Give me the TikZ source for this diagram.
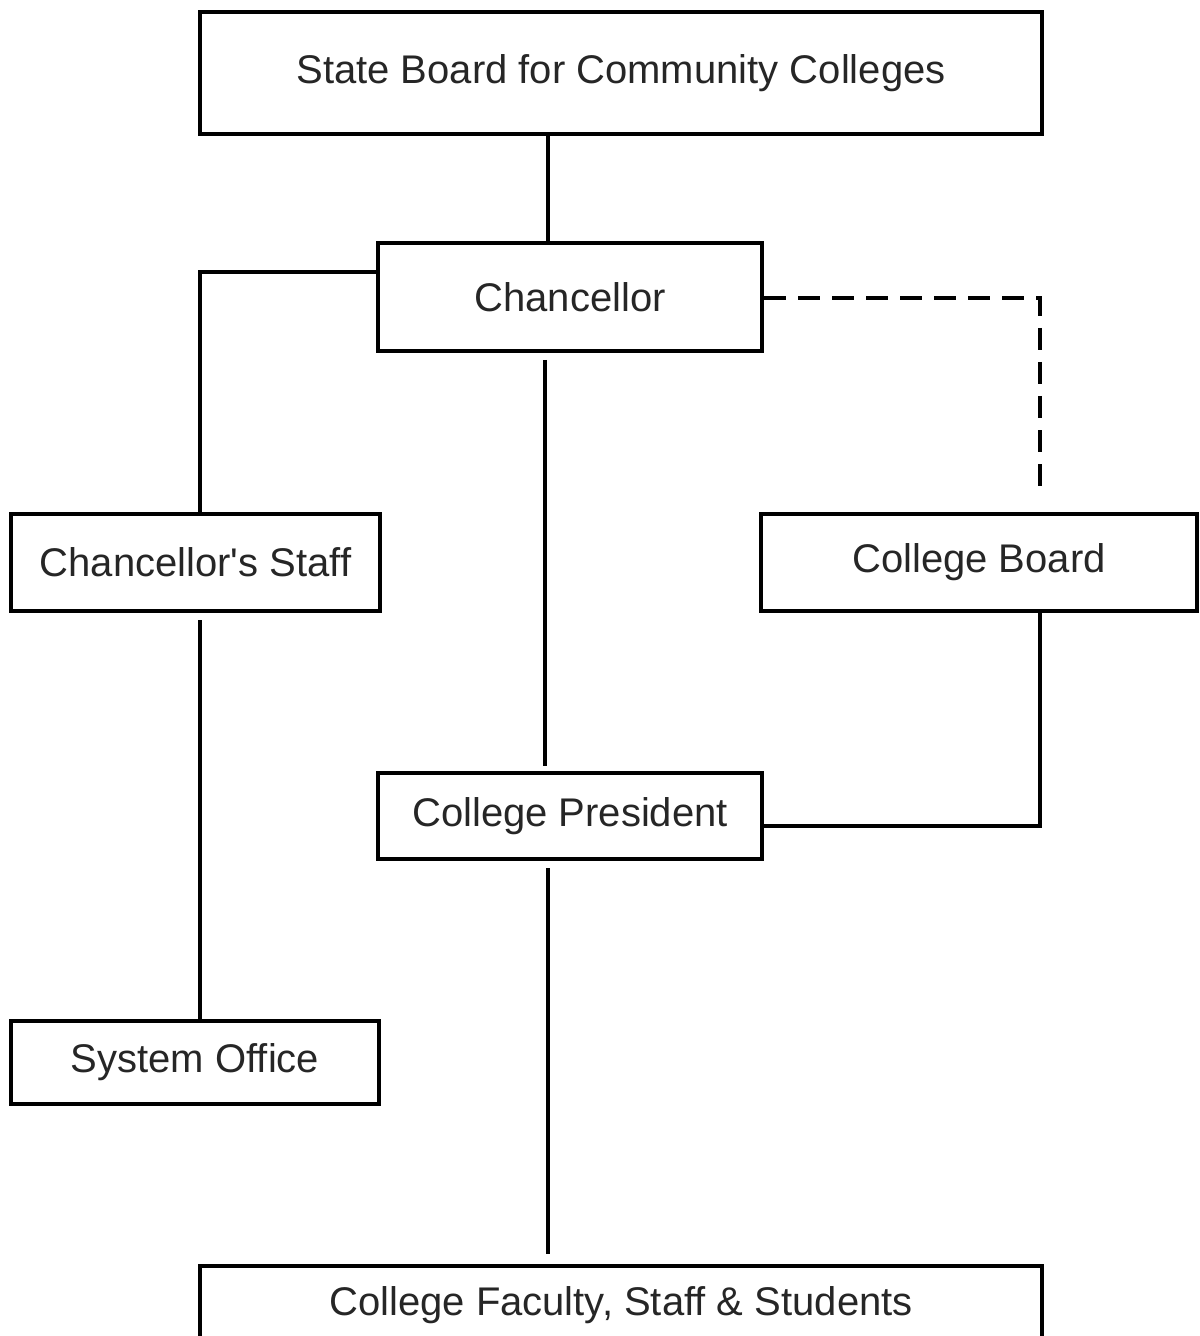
\documentclass[tikz,border=0pt]{standalone}
\usepackage{fontspec}
\setmainfont{Liberation Sans}
\newfontfamily\plainfont{Liberation Sans}
\begin{document}
\begin{tikzpicture}[x=0.5pt,y=-0.5pt,
  box/.style={draw, line width=2pt, inner sep=0pt, font=\fontsize{20pt}{24pt}\selectfont, text=black!85},
  conn/.style={line width=1.8pt},
  dconn/.style={line width=1.8pt, dash pattern=on 11pt off 6pt}]
\useasboundingbox (0,0) rectangle (1199,1336);
\clip (0,0) rectangle (1199,1336);
\node[box, minimum width=421pt, minimum height=61pt] (sb) at (621,73) {State Board for Community Colleges};
\node[box, minimum width=192pt, minimum height=54pt] (ch) at (570,297) {Chancellor};
\node[box, minimum width=184.5pt, minimum height=48.5pt] (cs) at (195.5,562.5) {Chancellor{\plainfont '}s Staff};
\node[box, minimum width=218pt, minimum height=48.5pt] (cb) at (979,562.5) {College Board};
\node[box, minimum width=192pt, minimum height=43pt] (cp) at (570,816) {College President};
\node[box, minimum width=184pt, minimum height=41.5pt] (so) at (195,1062.5) {System Office};
\node[box, minimum width=421pt, minimum height=39pt] (cf) at (621,1305) {College Faculty, Staff \& Students};
\coordinate (xa) at (548,0);
\coordinate (xb) at (545,0);
\coordinate (xc) at (200,0);
\coordinate (xd) at (1040,0);
\coordinate (ya) at (0,272);
\coordinate (yb) at (0,298);
\coordinate (yc) at (0,826);
\draw[conn] (sb.south -| xa) -- (ch.north -| xa);
\draw[conn] (ch.west |- ya) -| (cs.north -| xc);
\draw[conn, shorten <=3.5pt, shorten >=2.5pt] (ch.south -| xb) -- (cp.north -| xb);
\draw[dconn, shorten >=8pt] (ch.east |- yb) -| (cb.north -| xd);
\draw[conn] (cb.south -| xd) |- (cp.east |- yc);
\draw[conn, shorten <=3.5pt] (cs.south -| xc) -- (so.north -| xc);
\draw[conn, shorten <=3.5pt, shorten >=5pt] (cp.south -| xa) -- (cf.north -| xa);
\end{tikzpicture}
\end{document}
